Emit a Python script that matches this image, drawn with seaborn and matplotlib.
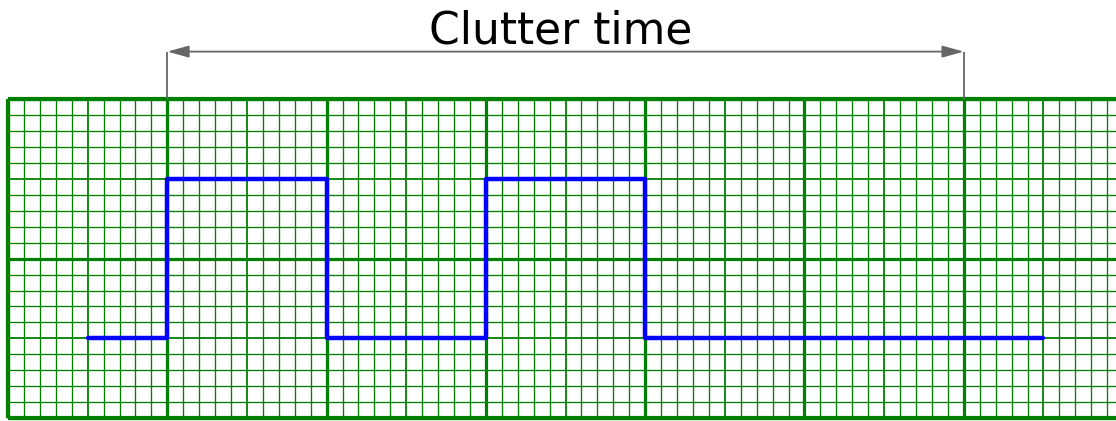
import matplotlib
matplotlib.use("Agg")
import matplotlib.pyplot as plt
import numpy as np
import seaborn as sns

# signal in grid units (one minor square = 1)
signal_t = [5, 10, 20, 30, 40, 65]
signal_level = [5, 15, 5, 15, 5, 5]

span_start = 10
span_end = 60
span_label = "Clutter time"

GRID_W = 70
GRID_H = 20
GREEN = "#008000"

sns.set_style("white")
plt.rcParams["font.family"] = ["DejaVu Sans"]

fig = plt.figure(figsize=(11.16, 4.21), dpi=100)
ax = fig.add_axes([0, 0, 1, 1])

px = 15.93  # pixels per grid unit
ax.set_xlim(-8 / px, 1108 / px)
ax.set_ylim((418 - 421) / px, 418 / px)
ax.axis("off")

# paper grid: minor, medium (every 5), major (every 10)
xs = np.arange(0, GRID_W + 1)
ys = np.arange(0, GRID_H + 1)
ax.vlines(xs[xs % 5 != 0], 0, GRID_H, color=GREEN, lw=0.95, zorder=1)
ax.hlines(ys[ys % 5 != 0], 0, GRID_W, color=GREEN, lw=0.95, zorder=1)
ax.vlines(xs[(xs % 5 == 0) & (xs % 10 != 0)], 0, GRID_H, color=GREEN, lw=1.3, zorder=2)
ax.hlines(ys[(ys % 5 == 0) & (ys % 10 != 0)], 0, GRID_W, color=GREEN, lw=1.3, zorder=2)
ax.vlines(xs[xs % 10 == 0], 0, GRID_H, color=GREEN, lw=2.3, zorder=3)
ax.hlines(ys[ys % 10 == 0], 0, GRID_W, color=GREEN, lw=2.3, zorder=3)
ax.vlines([0], 0, GRID_H, color=GREEN, lw=3.0, zorder=3)
ax.hlines([0, GRID_H], 0, GRID_W, color=GREEN, lw=3.0, zorder=3)

sns.lineplot(x=signal_t, y=signal_level, drawstyle="steps-post",
             color="#0000ff", linewidth=3.2, ax=ax, zorder=5)

# span marker above the grid
arrow_y = GRID_H + 3
ax.vlines([span_start, span_end], GRID_H, arrow_y, color="#666666", lw=1.3, zorder=4)
ax.annotate("", xy=(span_end, arrow_y), xytext=(span_start, arrow_y),
            arrowprops=dict(arrowstyle="<|-|>,head_length=0.65,head_width=0.18",
                            mutation_scale=20, color="#666666", lw=1.3,
                            shrinkA=0, shrinkB=0))
ax.text(34.7, arrow_y + 0.5, span_label,
        ha="center", va="baseline", fontsize=31.7, color="black")

fig.savefig("out.png", dpi=100)
